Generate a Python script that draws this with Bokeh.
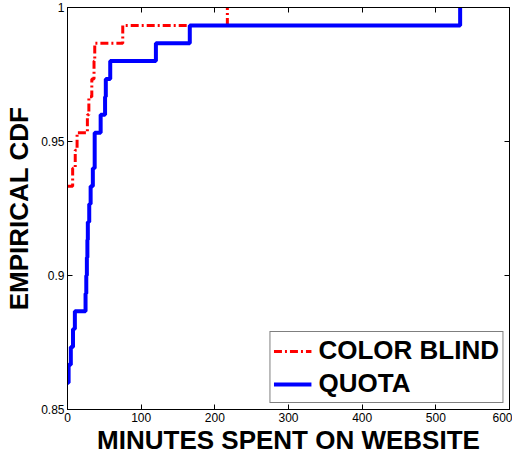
from bokeh.plotting import figure
from bokeh.models import LinearAxis, Legend, LegendItem, FixedTicker, Range1d
from bokeh.embed import file_html
from bokeh.resources import INLINE

# Empirical CDF of minutes spent on the website, per group (step positions and levels)
quota_minutes = [0, 1.5, 4.5, 7.5, 10, 24.5, 25.5, 26.3, 27, 27.6, 29.5, 31.4, 34.4,
                 36.9, 45, 51, 52, 58, 120, 166, 533]
quota_cdf = [0.86, 0.8667, 0.8733, 0.88, 0.8867, 0.8933, 0.9, 0.9067, 0.9133, 0.92,
             0.9267, 0.9333, 0.94, 0.9533, 0.96, 0.9667, 0.9733, 0.98, 0.9867, 0.9933, 1.0]

blind_minutes = [0, 7, 10.5, 13, 27, 29, 33, 36, 37, 75, 217]
blind_cdf = [0.9333, 0.94, 0.9467, 0.9533, 0.96, 0.9667, 0.9733, 0.98, 0.9867, 0.9933, 1.0]

x_ticks = [0, 100, 200, 300, 400, 500, 600]
y_ticks = [0.85, 0.9, 0.95, 1.0]
y_tick_labels = {0.85: "0.85", 0.9: "0.9", 0.95: "0.95", 1.0: "1"}

FONT = "Liberation Sans"

p = figure(width=512, height=457, output_backend="svg", toolbar_location=None,
           x_range=Range1d(0, 600), y_range=Range1d(0.85, 1.0),
           min_border_left=67, min_border_right=3, min_border_top=7, min_border_bottom=45,
           x_axis_label="MINUTES SPENT ON WEBSITE", y_axis_label="EMPIRICAL CDF")
p.background_fill_color = "white"
p.border_fill_color = "white"
p.xgrid.visible = False
p.ygrid.visible = False
p.outline_line_color = "black"
p.outline_line_width = 1

r_blind = p.step(blind_minutes, blind_cdf, mode="after", line_color="#ff0000",
                 line_width=3, line_dash="8 3 2 3")
r_quota = p.step(quota_minutes, quota_cdf, mode="after", line_color="#0000ff",
                 line_width=4)

def style_axis(ax, labels=True):
    ax.axis_line_color = "black"
    ax.major_tick_line_color = "black"
    ax.major_tick_in = 5
    ax.major_tick_out = 0
    ax.minor_tick_line_color = None
    ax.major_label_text_font = FONT
    if labels:
        ax.major_label_text_color = "black"
        ax.major_label_text_font_size = "12px"
        ax.major_label_standoff = 3
    else:
        # mirrored box ticks only, no numbers
        ax.major_label_text_color = None
        ax.major_label_text_font_size = "1px"
        ax.major_label_standoff = 0

p.xaxis.ticker = FixedTicker(ticks=x_ticks)
p.yaxis.ticker = FixedTicker(ticks=y_ticks)
p.yaxis.major_label_overrides = y_tick_labels
for ax in (p.xaxis[0], p.yaxis[0]):
    style_axis(ax)
    ax.axis_label_text_font = FONT
    ax.axis_label_text_font_style = "bold"
    ax.axis_label_text_font_size = "26px"
    ax.axis_label_text_color = "black"
p.xaxis.axis_label_standoff = 0
p.yaxis.axis_label_standoff = 4

top = LinearAxis(ticker=FixedTicker(ticks=x_ticks))
right = LinearAxis(ticker=FixedTicker(ticks=y_ticks))
style_axis(top, labels=False)
style_axis(right, labels=False)
p.add_layout(top, "above")
p.add_layout(right, "right")

legend = Legend(items=[LegendItem(label="COLOR BLIND", renderers=[r_blind]),
                       LegendItem(label="QUOTA", renderers=[r_quota])],
                location="bottom_right")
legend.label_text_font = FONT
legend.label_text_font_style = "bold"
legend.label_text_font_size = "26px"
legend.label_text_color = "black"
legend.glyph_width = 38
legend.glyph_height = 28
legend.label_height = 28
legend.label_standoff = 7
legend.spacing = 2
legend.padding = 3
legend.margin = 6
legend.border_line_color = "black"
legend.border_line_width = 1
legend.background_fill_color = "white"
legend.background_fill_alpha = 1
p.add_layout(legend)

open("out.html", "w").write(file_html(p, INLINE))
